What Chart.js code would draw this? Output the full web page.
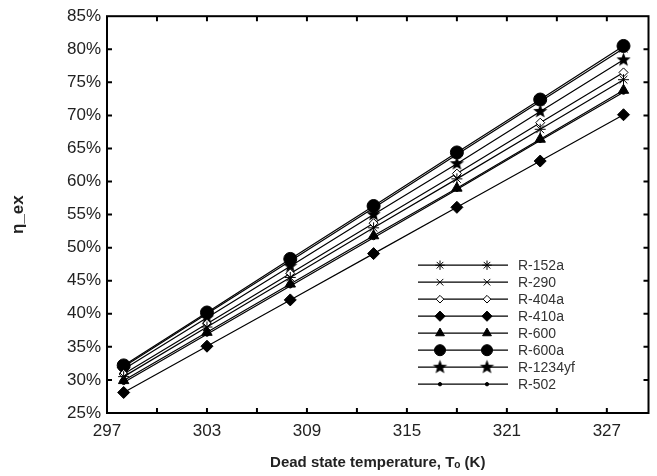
<!DOCTYPE html>
<html>
<head>
<meta charset="utf-8">
<script src="https://cdn.jsdelivr.net/npm/chart.js@4.4.1/dist/chart.umd.min.js"></script>
<style>
  html, body { margin: 0; padding: 0; background: #fff; }
  #wrap { width: 657px; height: 476px; }
</style>
</head>
<body>
<div id="wrap"><canvas id="myChart" width="657" height="476"></canvas></div>
<script>
// dead state temperature (K)
const temps = [298, 303, 308, 313, 318, 323, 328];

// x axis tick positions (labels every second one)
const xTicks = [297, 300, 303, 306, 309, 312, 315, 318, 321, 324, 327];

// exergy efficiency (%) per refrigerant
const r152a  = [30.5, 38.0, 45.5, 53.0, 60.4, 67.9, 75.4];
const r290   = [32.0, 40.0, 48.0, 56.0, 64.1, 72.1, 80.1];
const r404a  = [30.9, 38.5, 46.1, 53.7, 61.2, 68.9, 76.5];
const r410a  = [28.1, 35.1, 42.1, 49.1, 56.1, 63.1, 70.1];
const r600   = [29.9, 37.2, 44.5, 51.8, 59.0, 66.4, 73.8];
const r600a  = [32.2, 40.2, 48.3, 56.3, 64.4, 72.4, 80.5];
const r1234yf = [31.6, 39.4, 47.2, 55.0, 62.7, 70.6, 78.4];
const r502   = [29.6, 36.9, 44.2, 51.5, 58.8, 66.2, 73.5];

const seriesNames = ['R-152a', 'R-290', 'R-404a', 'R-410a', 'R-600', 'R-600a', 'R-1234yf', 'R-502'];
const seriesValues = [r152a, r290, r404a, r410a, r600, r600a, r1234yf, r502];

// five point star marker (not built in)
function makeStar(r) {
  const c = document.createElement('canvas');
  const s = Math.ceil(r * 2 + 2);
  c.width = s; c.height = s;
  const g = c.getContext('2d');
  g.fillStyle = '#000';
  g.beginPath();
  for (let i = 0; i < 10; i++) {
    const rad = i % 2 === 0 ? r : r * 0.42;
    const a = -Math.PI / 2 + i * Math.PI / 5;
    const px = s / 2 + rad * Math.cos(a);
    const py = s / 2 + rad * Math.sin(a);
    i === 0 ? g.moveTo(px, py) : g.lineTo(px, py);
  }
  g.closePath();
  g.fill();
  return c;
}
const starImg = makeStar(7.5);

const markers = [
  { pointStyle: 'star',      radius: 5.5, fill: '#000' },
  { pointStyle: 'crossRot',  radius: 5.5, fill: '#000' },
  { pointStyle: 'rectRot',   radius: 4.5, fill: '#fff' },
  { pointStyle: 'rectRot',   radius: 6,   fill: '#000' },
  { pointStyle: 'triangle',  radius: 6,   fill: '#000' },
  { pointStyle: 'circle',    radius: 6.5, fill: '#000' },
  { pointStyle: starImg,     radius: 7.5, fill: '#000' },
  { pointStyle: 'circle',    radius: 2,   fill: '#000' }
];

const datasets = seriesNames.map(function(name, i) {
  return {
    label: name,
    data: temps.map(function(t, j) { return { x: t, y: seriesValues[i][j] }; }),
    borderColor: '#000',
    borderWidth: 1.2,
    backgroundColor: markers[i].fill,
    pointBackgroundColor: markers[i].fill,
    pointBorderColor: '#000',
    pointBorderWidth: 1,
    pointStyle: markers[i].pointStyle,
    pointRadius: markers[i].radius,
    tension: 0
  };
});

// frame, inward ticks and the legend
const framePlugin = {
  id: 'frame',
  afterDraw(chart) {
    const c = chart.ctx;
    const a = chart.chartArea;
    const xs = chart.scales.x;
    const ys = chart.scales.y;
    c.save();
    c.strokeStyle = '#000';
    c.lineWidth = 2;
    c.strokeRect(a.left, a.top, a.right - a.left, a.bottom - a.top);
    c.beginPath();
    xs.ticks.forEach(function(t) {
      const px = xs.getPixelForValue(t.value);
      if (px <= a.left + 1 || px >= a.right - 1) return;
      c.moveTo(px, a.bottom); c.lineTo(px, a.bottom - 5);
      c.moveTo(px, a.top); c.lineTo(px, a.top + 5);
    });
    ys.ticks.forEach(function(t) {
      const py = ys.getPixelForValue(t.value);
      if (py <= a.top + 1 || py >= a.bottom - 1) return;
      c.moveTo(a.left, py); c.lineTo(a.left + 5, py);
      c.moveTo(a.right, py); c.lineTo(a.right - 5, py);
    });
    c.stroke();

    // legend
    const lx = a.left + 311;
    const ly = a.top + 249;
    c.font = '14px "Liberation Sans", Arial, sans-serif';
    c.textBaseline = 'middle';
    seriesNames.forEach(function(name, i) {
      const y = ly + i * 17;
      c.strokeStyle = '#000';
      c.lineWidth = 1.2;
      c.beginPath();
      c.moveTo(lx, y); c.lineTo(lx + 90, y);
      c.stroke();
      c.fillStyle = markers[i].fill;
      c.lineWidth = 1;
      [lx + 22, lx + 69].forEach(function(mx) {
        Chart.helpers.drawPoint(c, {
          pointStyle: markers[i].pointStyle,
          radius: markers[i].radius * 0.85,
          rotation: 0,
          borderWidth: 1
        }, mx, y);
      });
      c.fillStyle = '#333';
      c.fillText(name, lx + 100, y + 1);
    });
    c.restore();
  }
};

const ctx = document.querySelector('#myChart').getContext('2d');

const chart = new Chart(ctx, {
  type: 'line',
  data: { datasets: datasets },
  options: {
    responsive: false,
    animation: false,
    layout: { padding: { left: 4, right: 5, top: 12, bottom: 0 } },
    plugins: {
      legend: { display: false },
      tooltip: { enabled: false }
    },
    scales: {
      x: {
        type: 'linear',
        min: 297,
        max: 329.5,
        grid: { display: false, drawTicks: false },
        border: { display: false },
        afterBuildTicks: function(s) {
          s.ticks = xTicks.map(function(v) { return { value: v }; });
        },
        ticks: {
          autoSkip: false,
          maxRotation: 0,
          padding: 8,
          color: '#222',
          font: { size: 17, family: '"Liberation Sans", Arial, sans-serif' },
          callback: function(v) { return (v - 297) % 6 === 0 ? String(v) : ''; }
        },
        title: {
          display: true,
          text: 'Dead state temperature, Tₒ (K)',
          color: '#222',
          font: { size: 15, weight: 'bold', family: '"Liberation Sans", Arial, sans-serif' },
          padding: { top: 6 }
        },
        afterFit: function(s) { s.height = 63; }
      },
      y: {
        min: 25,
        max: 85,
        grid: { display: false, drawTicks: false },
        border: { display: false },
        ticks: {
          stepSize: 5,
          padding: 6,
          color: '#222',
          font: { size: 17, family: '"Liberation Sans", Arial, sans-serif' },
          callback: function(v) { return v + '%'; }
        },
        title: {
          display: true,
          text: 'η_ex',
          color: '#222',
          font: { size: 17, weight: 'bold', family: '"Liberation Sans", Arial, sans-serif' },
          padding: { bottom: 2 }
        },
        afterFit: function(s) { s.width = 103; }
      }
    }
  },
  plugins: [framePlugin]
});
</script>
</body>
</html>
